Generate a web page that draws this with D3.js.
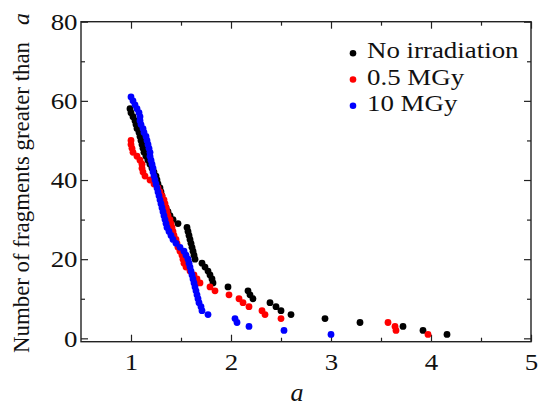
<!DOCTYPE html>
<html>
<head>
<meta charset="utf-8">
<title>Fragments greater than a</title>
<style>
body { margin: 0; background: #fff; }
svg { display: block; }
</style>
</head>
<body>
<svg width="538" height="406"></svg>
<script src="https://cdn.jsdelivr.net/npm/d3@7"></script>
<script>

// -------------------------------------------------------------------------
// DATA: fragment sizes a, largest count first (count = fragments greater than a)
// -------------------------------------------------------------------------
var seriesNames = ["No irradiation", "0.5 MGy", "10 MGy"];
var seriesColors = ["#000000", "#ff0000", "#0000ff"];

var noIrradiation = [0.99, 1.00, 1.02, 1.04, 1.05, 1.06, 1.08, 1.09, 1.10, 1.11,
  1.12, 1.13, 1.15, 1.17, 1.19, 1.21, 1.23, 1.25, 1.26, 1.27,
  1.29, 1.30, 1.31, 1.32, 1.33, 1.35, 1.37, 1.39, 1.42, 1.47,
  1.56, 1.57, 1.58, 1.59, 1.60, 1.61, 1.62, 1.63, 1.64, 1.71,
  1.74, 1.77, 1.79, 1.81, 1.82, 1.97, 2.17, 2.19, 2.22, 2.39,
  2.45, 2.50, 2.60, 2.94, 3.29, 3.72, 3.92, 4.16];

var mgy05 = [1.00, 1.00, 1.01, 1.02, 1.06, 1.09, 1.11, 1.11, 1.12, 1.14,
  1.19, 1.23, 1.27, 1.29, 1.31, 1.33, 1.34, 1.35, 1.36, 1.37,
  1.39, 1.40, 1.41, 1.42, 1.43, 1.45, 1.46, 1.47, 1.49, 1.51,
  1.52, 1.53, 1.55, 1.59, 1.63, 1.66, 1.69, 1.79, 1.84, 1.98,
  2.08, 2.12, 2.18, 2.31, 2.34, 2.50, 3.57, 3.64, 3.65, 3.97];

var mgy10 = [1.00, 1.02, 1.04, 1.06, 1.08, 1.09, 1.09, 1.10, 1.12, 1.13,
  1.15, 1.16, 1.17, 1.18, 1.19, 1.19, 1.20, 1.21, 1.22, 1.22,
  1.23, 1.24, 1.25, 1.26, 1.27, 1.28, 1.29, 1.30, 1.31, 1.32,
  1.33, 1.34, 1.35, 1.36, 1.38, 1.40, 1.42, 1.45, 1.49, 1.53,
  1.55, 1.57, 1.58, 1.59, 1.60, 1.61, 1.62, 1.63, 1.64, 1.65,
  1.66, 1.67, 1.68, 1.70, 1.71, 1.77, 2.04, 2.06, 2.18, 2.53, 3.00];

var xTicks = [1, 2, 3, 4, 5];
var xMinor = [1.5, 2.5, 3.5, 4.5];
var yTicks = [0, 20, 40, 60, 80];
var yMinor = [10, 30, 50, 70];

// -------------------------------------------------------------------------
// SETUP
// -------------------------------------------------------------------------
var FONT = "'Liberation Serif', 'Times New Roman', serif";
var STRETCH = 1.12; // the original type is a little wider than Liberation Serif

var svg = d3.select("svg");

var x = d3.scaleLinear().domain([0.5, 5]).range([81, 531]);
var y = d3.scaleLinear().domain([-0.85, 80]).range([341.7, 21.7]);

var plotLeft = x.range()[0], plotRight = x.range()[1],
    plotTop = y.range()[1], plotBottom = y.range()[0];

function series(values, i) {
  return values.map(function(a, k) {
    return { a: a, n: values.length - k, color: seriesColors[i] };
  });
}
var allSeries = [noIrradiation, mgy05, mgy10].map(series);

// widen a text a bit so it matches the reference
function widen(sel) {
  sel.each(function() {
    var w = this.getComputedTextLength();
    if (w > 0) {
      d3.select(this).attr("textLength", w * STRETCH).attr("lengthAdjust", "spacingAndGlyphs");
    }
  });
}

// -------------------------------------------------------------------------
// AXES (ticks point inward on all four sides)
// -------------------------------------------------------------------------
function styleAxis(g) {
  g.attr("font-family", null).attr("font-size", null);
  g.select(".domain").remove();
  g.selectAll("line").attr("stroke", "#222").attr("stroke-width", 1.2);
  g.selectAll("text")
      .style("font-family", FONT)
      .attr("font-size", 24).attr("fill", "#111")
      .call(widen);
}

svg.append("g").attr("transform", "translate(0," + plotBottom + ")")
    .call(d3.axisBottom(x).tickValues(xTicks).tickSizeInner(-7).tickPadding(11).tickFormat(d3.format("d")))
    .call(styleAxis);
svg.append("g").attr("transform", "translate(0," + plotBottom + ")")
    .call(d3.axisBottom(x).tickValues(xMinor).tickSizeInner(-4).tickFormat(""))
    .call(styleAxis);
svg.append("g").attr("transform", "translate(0," + plotTop + ")")
    .call(d3.axisTop(x).tickValues(xTicks).tickSizeInner(-7).tickFormat(""))
    .call(styleAxis);
svg.append("g").attr("transform", "translate(0," + plotTop + ")")
    .call(d3.axisTop(x).tickValues(xMinor).tickSizeInner(-4).tickFormat(""))
    .call(styleAxis);

svg.append("g").attr("transform", "translate(" + plotLeft + ",0)")
    .call(d3.axisLeft(y).tickValues(yTicks).tickSizeInner(-7).tickPadding(3.5).tickFormat(d3.format("d")))
    .call(styleAxis);
svg.append("g").attr("transform", "translate(" + plotLeft + ",0)")
    .call(d3.axisLeft(y).tickValues(yMinor).tickSizeInner(-4).tickFormat(""))
    .call(styleAxis);
svg.append("g").attr("transform", "translate(" + plotRight + ",0)")
    .call(d3.axisRight(y).tickValues(yTicks).tickSizeInner(-7).tickFormat(""))
    .call(styleAxis);
svg.append("g").attr("transform", "translate(" + plotRight + ",0)")
    .call(d3.axisRight(y).tickValues(yMinor).tickSizeInner(-4).tickFormat(""))
    .call(styleAxis);

svg.append("rect")
    .attr("x", plotLeft).attr("y", plotTop)
    .attr("width", plotRight - plotLeft).attr("height", plotBottom - plotTop)
    .attr("fill", "none").attr("stroke", "#222").attr("stroke-width", 1.4);

// axis titles
svg.append("text")
    .attr("x", 297).attr("y", 401)
    .attr("text-anchor", "middle")
    .style("font-family", FONT)
    .attr("font-size", 26).attr("font-style", "italic").attr("fill", "#111")
    .text("a");

var yTitle = svg.append("g").attr("transform", "translate(28.5,353) rotate(-90)");
yTitle.append("text")
    .style("font-family", FONT)
    .attr("font-size", 24).attr("fill", "#111")
    .attr("textLength", 311).attr("lengthAdjust", "spacingAndGlyphs")
    .text("Number of fragments greater than");
yTitle.append("text")
    .attr("x", 328)
    .style("font-family", FONT)
    .attr("font-size", 24).attr("font-style", "italic").attr("fill", "#111")
    .text("a");

// -------------------------------------------------------------------------
// POINTS
// -------------------------------------------------------------------------
var layer = svg.append("g");
allSeries.forEach(function(pts) {
  layer.append("g").selectAll("circle")
      .data(pts)
    .enter().append("circle")
      .attr("cx", function(d) { return x(d.a); })
      .attr("cy", function(d) { return y(d.n); })
      .attr("r", 3.4)
      .attr("fill", function(d) { return d.color; });
});

// -------------------------------------------------------------------------
// LEGEND
// -------------------------------------------------------------------------
var legend = svg.append("g").attr("transform", "translate(353,53.3)")
  .selectAll("g")
    .data(seriesNames)
  .enter().append("g")
    .attr("transform", function(d, i) { return "translate(0," + i * 26.2 + ")"; });

legend.append("circle")
    .attr("r", 3.3)
    .attr("fill", function(d, i) { return seriesColors[i]; });

legend.append("text")
    .attr("x", 14).attr("y", 5)
    .style("font-family", FONT)
    .attr("font-size", 24).attr("fill", "#111")
    .text(function(d) { return d; })
    .call(widen);

</script>
</body>
</html>
